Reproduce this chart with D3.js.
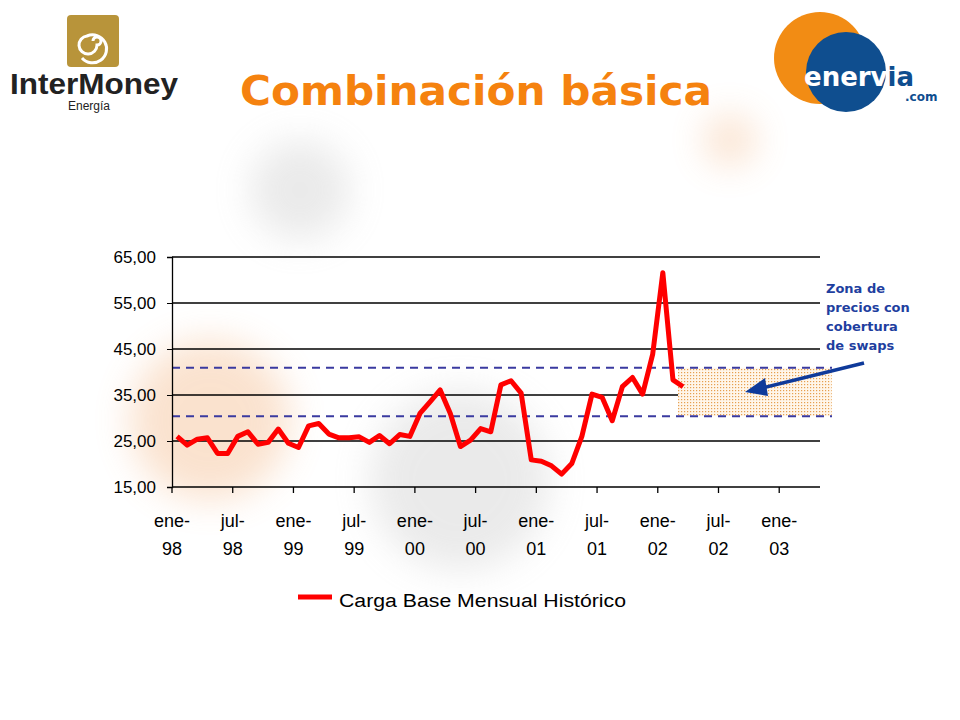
<!DOCTYPE html>
<html><head><meta charset="utf-8">
<script src="https://cdn.jsdelivr.net/npm/d3@7"></script>
<style>body{margin:0;background:#fff}</style>
</head><body>
<script>
const yearLabels = ["98","99","00","01","02","03"];
const tickLabels = [["ene-","98"],["jul-","98"],["ene-","99"],["jul-","99"],["ene-","00"],["jul-","00"],["ene-","01"],["jul-","01"],["ene-","02"],["jul-","02"],["ene-","03"]];
const monthNames = ["ene","feb","mar","abr","may","jun","jul","ago","sep","oct","nov","dic"];
const months = d3.range(64).map(i => monthNames[i%12] + "-" + yearLabels[Math.floor(i/12)] );
const values = [26.0,24.1,25.4,25.7,22.3,22.3,26.0,27.0,24.3,24.7,27.6,24.5,
  23.6,28.3,28.8,26.5,25.7,25.7,25.9,24.7,26.2,24.4,26.4,26.0,
  31.0,33.5,36.1,31.0,23.8,25.2,27.7,27.0,37.2,38.1,35.4,20.9,
  20.6,19.6,17.8,20.1,26.0,35.2,34.5,29.4,36.8,38.8,35.2,43.9,
  61.6,38.3,36.8];
const yTicks = [15,25,35,45,55,65];
const swapLow = 30.4, swapHigh = 40.9;
const swapStart = 50, swapEnd = 64;
const seriesName = "Carga Base Mensual Histórico";

const W=960,H=720;
const svg=d3.select("body").append("svg").attr("width",W).attr("height",H);
const defs=svg.append("defs");
const blur=defs.append("filter").attr("id","bl").attr("x","-50%").attr("y","-50%").attr("width","200%").attr("height","200%");
blur.append("feGaussianBlur").attr("stdDeviation",18);
const pat=defs.append("pattern").attr("id","dots").attr("width",3).attr("height",3).attr("patternUnits","userSpaceOnUse");
pat.append("rect").attr("width",3).attr("height",3).attr("fill","#fff6ea");
pat.append("rect").attr("width",1.2).attr("height",1.2).attr("fill","#e6a050");

const bg=svg.append("g").attr("filter","url(#bl)").attr("opacity",0.3);
bg.append("circle").attr("cx",210).attr("cy",420).attr("r",80).attr("fill","#f0a060");
bg.append("circle").attr("cx",460).attr("cy",480).attr("r",90).attr("fill","#bbbbbb");
bg.append("circle").attr("cx",300).attr("cy",190).attr("r",50).attr("fill","#bbbbbb");
bg.append("circle").attr("cx",730).attr("cy",140).attr("r",25).attr("fill","#f0a060");

// logos
svg.append("rect").attr("x",67).attr("y",15).attr("width",52).attr("height",52).attr("rx",4).attr("fill","#b8943a");
svg.append("path").attr("d","M93,41 m0,0 a4,4 0 1,1 4,4 a9,9 0 1,1 -10,-9 a14,14 0 1,1 -5,22").attr("fill","none").attr("stroke","#fff").attr("stroke-width",3);
svg.append("text").attr("x",10).attr("y",94).attr("font-family","Liberation Sans").attr("font-weight","bold").attr("font-size",30).attr("fill","#222").attr("textLength",168).attr("lengthAdjust","spacingAndGlyphs").text("InterMoney");
svg.append("text").attr("x",68).attr("y",110).attr("font-family","Liberation Sans").attr("font-size",12).attr("fill","#222").text("Energía");
svg.append("circle").attr("cx",820).attr("cy",58).attr("r",46).attr("fill","#f28c14");
svg.append("circle").attr("cx",846).attr("cy",72).attr("r",40).attr("fill","#0f4e8f");
const en=svg.append("text").attr("x",804).attr("y",86).attr("font-family","DejaVu Sans").attr("font-weight","bold").attr("font-size",26).attr("textLength",110).attr("lengthAdjust","spacingAndGlyphs");
en.append("tspan").attr("fill","#fff").text("enerv");
en.append("tspan").attr("fill","#0f4e8f").text("ia");
svg.append("text").attr("x",905).attr("y",101).attr("font-family","DejaVu Sans").attr("font-weight","bold").attr("font-size",12).attr("fill","#0f4e8f").text(".com");

svg.append("text").attr("x",476).attr("y",105).attr("text-anchor","middle").attr("font-family","DejaVu Sans").attr("font-weight","bold").attr("font-size",41).attr("fill","#f5820f").attr("textLength",472).attr("lengthAdjust","spacingAndGlyphs").text("Combinación básica");

// chart
const x=d3.scaleBand().domain(months).range([172,819.7]);
const y=d3.scaleLinear().domain([15,65]).range([487,257]);
const g=svg.append("g");
g.selectAll("line.grid").data(yTicks.slice(1)).join("line").attr("x1",172).attr("x2",820).attr("y1",d=>y(d)).attr("y2",d=>y(d)).attr("stroke","#000").attr("stroke-width",1.3);
g.append("rect").attr("x",x(months[swapStart])).attr("width",x.step()*(swapEnd-swapStart)+12).attr("y",y(swapHigh)).attr("height",y(swapLow)-y(swapHigh)).attr("fill","url(#dots)");
[swapLow,swapHigh].forEach(v=>g.append("line").attr("x1",172).attr("x2",832).attr("y1",y(v)).attr("y2",y(v)).attr("stroke","#3a3aa0").attr("stroke-width",2).attr("stroke-dasharray","8,6"));
const ya=g.append("g").attr("transform","translate(172,0)").call(d3.axisLeft(y).tickValues(yTicks).tickSize(5).tickFormat(d=>d3.format(".2f")(d).replace(".",",")));
ya.select(".domain").attr("stroke-width",1.3);
ya.selectAll("text").attr("font-family","Liberation Sans").attr("font-size",17).attr("fill","#000").attr("dx",-8);
const xa=g.append("g").attr("transform","translate(0,487)");
xa.append("line").attr("x1",172).attr("x2",820).attr("stroke","#000").attr("stroke-width",1.3);
const tk=xa.selectAll("g").data(tickLabels).join("g").attr("transform",(d,i)=>`translate(${x(months[i*6])},0)`);
tk.append("line").attr("y2",6).attr("stroke","#000").attr("stroke-width",1.3);
tk.append("text").attr("y",40).attr("text-anchor","middle").attr("font-family","Liberation Sans").attr("font-size",18).text(d=>d[0]);
tk.append("text").attr("y",68).attr("text-anchor","middle").attr("font-family","Liberation Sans").attr("font-size",18).text(d=>d[1]);

const line=d3.line().x((d,i)=>x(months[i])+x.bandwidth()/2).y(d=>y(d));
g.append("path").datum(values).attr("d",line).attr("fill","none").attr("stroke","#ff0000").attr("stroke-width",5).attr("stroke-linejoin","round");

// annotation
const ann=svg.append("text").attr("font-family","DejaVu Sans").attr("font-weight","bold").attr("font-size",13).attr("fill","#1f3f9f");
["Zona de","precios con","cobertura","de swaps"].forEach((t,i)=>ann.append("tspan").attr("x",826).attr("y",293+i*19).text(t));
svg.append("line").attr("x1",864).attr("y1",363).attr("x2",762).attr("y2",388).attr("stroke","#0f3a9a").attr("stroke-width",3.5);
svg.append("path").attr("d","M745,392 L765,378 L768,396 Z").attr("fill","#0f3a9a");

// legend
svg.append("line").attr("x1",298).attr("x2",332).attr("y1",597).attr("y2",597).attr("stroke","#ff0000").attr("stroke-width",5);
svg.append("text").attr("x",339).attr("y",607).attr("font-family","Liberation Sans").attr("font-size",18).attr("textLength",287).attr("lengthAdjust","spacingAndGlyphs").text(seriesName);
</script>
</body></html>
